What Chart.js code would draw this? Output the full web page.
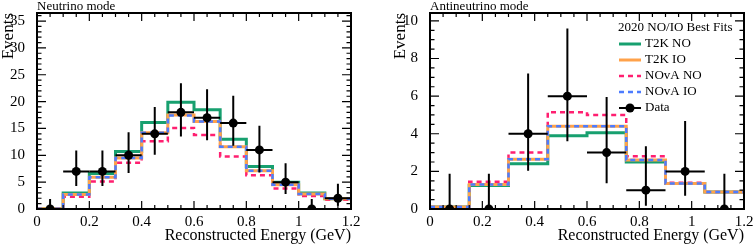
<!DOCTYPE html>
<html>
<head>
<meta charset="utf-8">
<script src="https://cdn.jsdelivr.net/npm/chart.js@4.4.1/dist/chart.umd.min.js"></script>
<style>
    html, body { margin: 0; padding: 0; background: #fff; }
    #wrap { position: relative; width: 755px; height: 244px; }
    canvas { position: absolute; top: 0; }
</style>
</head>
<body>
<div id="wrap">
    <canvas id="nuChart" width="377" height="244" style="left:0"></canvas>
    <canvas id="anuChart" width="377" height="244" style="left:378px"></canvas>
</div>
<script>
// Neutrino mode
const nuEdges = [0, 0.1, 0.2, 0.3, 0.4, 0.5, 0.6, 0.7, 0.8, 0.9, 1.0, 1.1, 1.2];
const nuData = [0, 7, 7, 10, 14, 18, 17, 16, 11, 5, 0, 2];
const nuDataLow = [0, 4.3, 4.3, 6.7, 10.1, 13.5, 12.8, 11.8, 6.8, 2.8, 0, 0.6];
const nuDataHigh = [1.85, 10.9, 10.9, 14.3, 19.0, 23.4, 22.3, 21.1, 15.5, 8.5, 1.85, 4.7];
const nuT2KNO = [0.05, 3.0, 6.6, 10.7, 16.1, 19.9, 18.5, 13.0, 7.9, 5.0, 3.0, 1.9];
const nuT2KIO = [0.05, 2.7, 5.9, 9.5, 14.2, 17.5, 16.3, 11.6, 7.1, 4.5, 2.8, 1.9];
const nuNOvANO = [0.05, 2.3, 5.1, 8.6, 12.6, 15.1, 13.8, 9.8, 6.3, 3.8, 2.4, 1.7];
const nuNOvAIO = [0.05, 2.7, 5.9, 9.5, 14.2, 17.4, 16.3, 11.6, 7.1, 4.5, 2.8, 1.9];
const nuYTicks = [0, 5, 10, 15, 20, 25, 30, 35];

// Antineutrino mode
const anuEdges = [0, 0.15, 0.3, 0.45, 0.6, 0.75, 0.9, 1.05, 1.2];
const anuData = [0, 0, 4, 6, 3, 1, 2, 0];
const anuDataLow = [0, 0, 2.04, 3.6, 1.37, 0.17, 0.7, 0];
const anuDataHigh = [1.87, 1.87, 7.2, 9.6, 5.95, 3.33, 4.68, 1.87];
const anuT2KNO = [0.1, 1.25, 2.4, 3.9, 4.05, 2.5, 1.35, 0.9];
const anuT2KIO = [0.1, 1.3, 2.65, 4.4, 4.4, 2.6, 1.35, 0.9];
const anuNOvANO = [0.1, 1.45, 3.0, 5.15, 5.0, 2.8, 1.4, 0.9];
const anuNOvAIO = [0.1, 1.3, 2.65, 4.4, 4.4, 2.6, 1.35, 0.9];
const anuYTicks = [0, 2, 4, 6, 8, 10];

const xTicks = [0, 0.2, 0.4, 0.6, 0.8, 1, 1.2];

const FONT = '"Liberation Serif", "Times New Roman", serif';

function stepPoints(edges, values) {
    const pts = values.map((v, i) => ({ x: edges[i], y: v }));
    pts.push({ x: edges[edges.length - 1], y: values[values.length - 1] });
    return pts;
}

function centers(edges, values) {
    return values.map((v, i) => ({ x: (edges[i] + edges[i + 1]) / 2, y: v }));
}

function histDataset(label, edges, values, color, width, dash, order) {
    return {
        type: 'line',
        label: label,
        data: stepPoints(edges, values),
        stepped: true,
        borderColor: color,
        borderWidth: width,
        borderDash: dash,
        pointRadius: 0,
        fill: false,
        order: order
    };
}

// minor tick values between and beyond majors
function minorTicks(majors, n, max) {
    const step = (majors[1] - majors[0]) / n;
    const out = [];
    for (let k = 0; majors[0] + k * step <= max + 1e-9; k++) {
        out.push(majors[0] + k * step);
    }
    return out;
}

const framePlugin = {
    id: 'frame',
    afterDatasetsDraw(chart, args, opts) {
        const { ctx, scales: { x, y } } = chart;
        ctx.save();
        ctx.strokeStyle = '#000';
        ctx.lineWidth = 2;
        opts.values.forEach((v, i) => {
            const cx = x.getPixelForValue((opts.edges[i] + opts.edges[i + 1]) / 2);
            const cy = y.getPixelForValue(v);
            ctx.beginPath();
            ctx.moveTo(x.getPixelForValue(opts.edges[i]), cy);
            ctx.lineTo(x.getPixelForValue(opts.edges[i + 1]), cy);
            ctx.moveTo(cx, y.getPixelForValue(opts.low[i]));
            ctx.lineTo(cx, y.getPixelForValue(opts.high[i]));
            ctx.stroke();
        });
        ctx.restore();
    },
    afterDraw(chart, args, opts) {
        const { ctx, chartArea: a, scales: { x, y } } = chart;
        ctx.save();
        ctx.strokeStyle = '#000';
        ctx.lineWidth = 1.2;
        ctx.beginPath();
        const xMaj = xTicks;
        minorTicks(xMaj, 4, x.max).forEach(v => {
            const px = x.getPixelForValue(v);
            const len = xMaj.some(m => Math.abs(m - v) < 1e-9) ? 8 : 4;
            ctx.moveTo(px, a.bottom); ctx.lineTo(px, a.bottom - len);
            ctx.moveTo(px, a.top); ctx.lineTo(px, a.top + len);
        });
        minorTicks(opts.yTicks, opts.ySub, y.max).forEach(v => {
            const py = y.getPixelForValue(v);
            const len = opts.yTicks.some(m => Math.abs(m - v) < 1e-9) ? 9 : 4.5;
            ctx.moveTo(a.left, py); ctx.lineTo(a.left + len, py);
            ctx.moveTo(a.right, py); ctx.lineTo(a.right - len, py);
        });
        ctx.stroke();
        ctx.lineWidth = 2;
        ctx.strokeRect(a.left, a.top, a.right - a.left, a.bottom - a.top);

        ctx.fillStyle = '#000';
        ctx.font = '13px ' + FONT;
        ctx.textBaseline = 'alphabetic';
        ctx.textAlign = 'left';
        ctx.fillText(opts.title, a.left, 10);

        if (opts.legend) {
            const rows = [
                { ds: chart.data.datasets[4], y: 44 },
                { ds: chart.data.datasets[2], y: 60 },
                { ds: chart.data.datasets[3], y: 76 },
                { ds: chart.data.datasets[1], y: 92 },
                { ds: chart.data.datasets[0], y: 108 }
            ];
            ctx.textBaseline = 'middle';
            ctx.fillText('2020 NO/IO Best Fits', 240, 28);
            rows.forEach(r => {
                ctx.save();
                if (r.ds.type === 'line') {
                    ctx.strokeStyle = r.ds.borderColor;
                    ctx.lineWidth = r.ds.borderWidth;
                    ctx.setLineDash(r.ds.borderDash || []);
                } else {
                    ctx.strokeStyle = '#000';
                    ctx.lineWidth = 2;
                }
                ctx.beginPath();
                ctx.moveTo(241, r.y);
                ctx.lineTo(263, r.y);
                ctx.stroke();
                if (r.ds.type !== 'line') {
                    ctx.beginPath();
                    ctx.arc(252, r.y, 4.5, 0, Math.PI * 2);
                    ctx.fill();
                }
                ctx.restore();
                ctx.fillText(r.ds.label, 267, r.y);
            });
        }
        ctx.restore();
    }
};

function makeChart(id, cfg) {
    const datasets = [
        {
            type: 'scatter',
            label: 'Data',
            data: centers(cfg.edges, cfg.data),
            pointRadius: 4.5,
            pointBackgroundColor: '#000',
            pointBorderColor: '#000',
            pointBorderWidth: 0,
            order: 0
        },
        histDataset('NOvA IO', cfg.edges, cfg.novaIO, '#4d7cff', 2.5, [5, 4], 1),
        histDataset('T2K IO', cfg.edges, cfg.t2kIO, '#ffa24a', 3, [], 2),
        histDataset('NOvA NO', cfg.edges, cfg.novaNO, '#ff1f70', 2.5, [5, 4], 3),
        histDataset('T2K NO', cfg.edges, cfg.t2kNO, '#17a06f', 3, [], 4)
    ];

    return new Chart(document.getElementById(id), {
        data: { datasets: datasets },
        plugins: [framePlugin],
        options: {
            responsive: false,
            animation: false,
            events: [],
            layout: { padding: { top: 13, right: cfg.padRight, left: 0, bottom: 0 } },
            plugins: {
                legend: { display: false },
                tooltip: { enabled: false },
                frame: {
                    edges: cfg.edges, values: cfg.data, low: cfg.low, high: cfg.high,
                    yTicks: cfg.yTicks, ySub: cfg.ySub, title: cfg.title, legend: cfg.legend
                }
            },
            scales: {
                x: {
                    type: 'linear',
                    min: 0,
                    max: 1.2,
                    grid: { display: false },
                    border: { display: false },
                    afterBuildTicks: s => { s.ticks = xTicks.map(v => ({ value: v })); },
                    afterFit: s => { s.height = 35; },
                    ticks: {
                        autoSkip: false,
                        maxRotation: 0,
                        padding: -4,
                        color: '#000',
                        font: { family: FONT, size: 15 },
                        callback: v => String(v)
                    },
                    title: {
                        display: true,
                        text: 'Reconstructed Energy (GeV)',
                        align: 'end',
                        color: '#000',
                        padding: 0,
                        font: { family: FONT, size: 16, lineHeight: 1 }
                    }
                },
                y: {
                    type: 'linear',
                    min: 0,
                    max: cfg.yMax,
                    grid: { display: false },
                    border: { display: false },
                    afterBuildTicks: s => { s.ticks = cfg.yTicks.map(v => ({ value: v })); },
                    afterFit: s => { s.width = cfg.yWidth; },
                    ticks: {
                        autoSkip: false,
                        padding: 4,
                        color: '#000',
                        font: { family: FONT, size: 15 },
                        callback: v => String(v)
                    },
                    title: {
                        display: true,
                        text: 'Events',
                        align: 'end',
                        color: '#000',
                        padding: { top: cfg.titlePad, bottom: 0 },
                        font: { family: FONT, size: 17, lineHeight: 1 }
                    }
                }
            }
        }
    });
}

makeChart('nuChart', {
    edges: nuEdges, data: nuData, low: nuDataLow, high: nuDataHigh,
    t2kNO: nuT2KNO, t2kIO: nuT2KIO, novaNO: nuNOvANO, novaIO: nuNOvAIO,
    yTicks: nuYTicks, ySub: 5, yMax: 36.5, yWidth: 37, padRight: 26, titlePad: 0,
    title: 'Neutrino mode', legend: false
});

makeChart('anuChart', {
    edges: anuEdges, data: anuData, low: anuDataLow, high: anuDataHigh,
    t2kNO: anuT2KNO, t2kIO: anuT2KIO, novaNO: anuNOvANO, novaIO: anuNOvAIO,
    yTicks: anuYTicks, ySub: 4, yMax: 10.42, yWidth: 52, padRight: 11, titlePad: 14,
    title: 'Antineutrino mode', legend: true
});
</script>
</body>
</html>
